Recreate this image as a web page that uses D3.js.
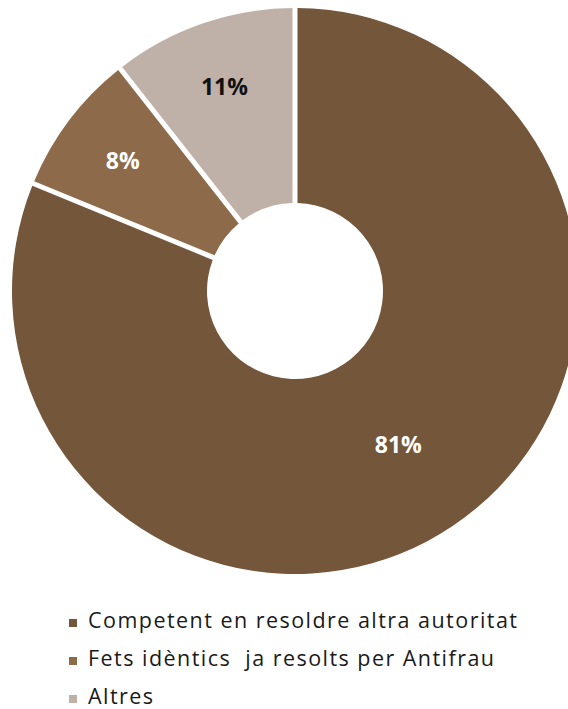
<!DOCTYPE html>
<html>
<head>
<meta charset="utf-8">
<script src="https://cdn.jsdelivr.net/npm/d3@7"></script>
<style>
  html, body { margin: 0; padding: 0; background: #fff; }
  svg { display: block; }
  text.legtxt { white-space: pre; }
</style>
</head>
<body>
<svg id="chart" width="568" height="709"></svg>
<script>
// Data
const categories = [
  "Competent en resoldre altra autoritat",
  "Fets idèntics  ja resolts per Antifrau",
  "Altres"
];
const values = [81.2, 8.2, 10.6];
const colors = ["#74573b", "#8d6a4a", "#c0b1a8"];
const labelColors = ["#ffffff", "#ffffff", "#111111"];

const svg = d3.select("#chart");
const cx = 295, cy = 291;
const outerR = 283, innerR = 88;

const data = categories.map((c, i) => ({ cat: c, value: values[i], color: colors[i], lc: labelColors[i] }));
const total = d3.sum(values);

const pie = d3.pie().value(d => d.value).sort(null);
const arcs = pie(data);

const arc = d3.arc()
  .innerRadius(innerR)
  .outerRadius(outerR)
  .padRadius(outerR)
  .padAngle(5 / outerR);

const g = svg.append("g").attr("transform", `translate(${cx},${cy})`);

g.selectAll("path.slice")
  .data(arcs)
  .join("path")
  .attr("class", "slice")
  .attr("d", arc)
  .attr("fill", d => d.data.color);

// labels
const fmt = v => Math.round(v / total * 100) + "%";
g.selectAll("text.lbl")
  .data(arcs)
  .join("text")
  .attr("class", "lbl")
  .attr("transform", d => {
    const frac = (d.endAngle - d.startAngle) / (2 * Math.PI);
    const r = frac < 0.2 ? outerR * 0.763 : (innerR + outerR) / 2;
    const a = (d.startAngle + d.endAngle) / 2;
    return `translate(${Math.sin(a) * r},${-Math.cos(a) * r})`;
  })
  .attr("text-anchor", "middle")
  .attr("dy", "0.36em")
  .attr("font-family", "'Open Sans', 'Noto Sans', sans-serif")
  .attr("font-weight", 700)
  .attr("font-size", 23)
  .attr("fill", d => d.data.lc)
  .text(d => fmt(d.data.value));

// legend
const legY = d3.scalePoint().domain(categories).range([628, 704]);
const leg = svg.append("g");
const items = leg.selectAll("g.item")
  .data(data)
  .join("g")
  .attr("class", "item")
  .attr("transform", d => `translate(0,${legY(d.cat)})`);

items.append("rect")
  .attr("x", 69)
  .attr("y", -9)
  .attr("width", 8)
  .attr("height", 8)
  .attr("fill", d => d.color);

const legText = items.append("text")
  .attr("class", "legtxt")
  .attr("x", 88)
  .attr("y", 0)
  .attr("font-family", "'Open Sans', 'Noto Sans', sans-serif")
  .attr("font-size", 21.5)
  .attr("fill", "#1a1a1a")
  .text(d => d.cat);

// match the wide geometric face of the original by letter-spacing
const first = legText.node();
const w = first.getComputedTextLength();
const target = 429;
const ls = (target - w) / (categories[0].length - 1);
legText.attr("letter-spacing", ls > 0 ? ls : 0);
</script>
</body>
</html>
